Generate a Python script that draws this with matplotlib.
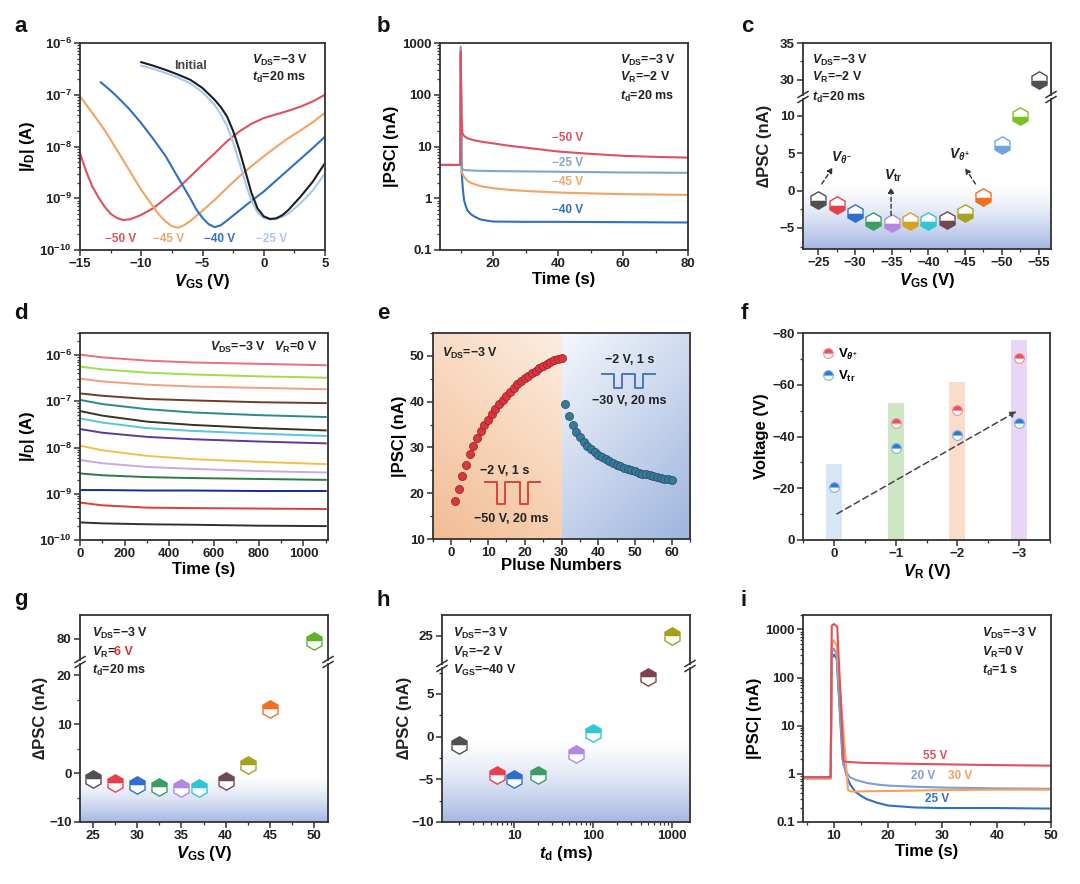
import numpy as np
import matplotlib
matplotlib.use("Agg")
import matplotlib.pyplot as plt
from matplotlib.lines import Line2D
from matplotlib.ticker import (MultipleLocator, FixedLocator, FixedFormatter,
                               LogLocator, NullFormatter, FuncFormatter)

plt.rcParams.update({
    'font.family': ['Liberation Sans', 'DejaVu Sans'],
    'font.weight': 'bold',
    'axes.labelweight': 'bold',
    'mathtext.fontset': 'custom',
    'mathtext.rm': 'Liberation Sans:bold',
    'mathtext.it': 'Liberation Sans:italic:bold',
    'mathtext.bf': 'Liberation Sans:bold',
    'mathtext.sf': 'Liberation Sans:bold',
    'font.size': 9,
    'axes.linewidth': 1.3,
    'axes.edgecolor': '#333333',
    'xtick.direction': 'out',
    'ytick.direction': 'out',
    'lines.solid_joinstyle': 'round',
})

# ------------------------------------------------------------------ data
# (a) transfer curves, log10(|I_D|)
a_x_init = [-10, -9, -8, -7, -6, -5, -4, -3.5, -3, -2.5, -2, -1.5, -1, -0.5, 0, 0.5, 1, 1.5, 2, 3, 4, 5]
a_init = [-6.37, -6.44, -6.52, -6.61, -6.71, -6.87, -7.10, -7.24, -7.42, -7.70, -8.06, -8.48, -8.90,
          -9.20, -9.35, -9.40, -9.39, -9.33, -9.23, -8.97, -8.68, -8.32]
a_x_25 = [-10, -9, -8, -7, -6, -5, -4, -3.5, -3, -2.5, -2, -1.5, -1, -0.5, 0, 0.5, 1, 1.5, 2, 3, 4, 5]
a_25 = [-6.44, -6.50, -6.58, -6.67, -6.78, -6.95, -7.20, -7.38, -7.60, -7.92, -8.30, -8.70, -9.05,
        -9.28, -9.38, -9.41, -9.40, -9.36, -9.30, -9.10, -8.85, -8.52]
a_x_40 = [-13.3, -12.5, -12, -11, -10, -9, -8, -7, -6, -5.5, -5, -4.5, -4, -3.5, -3, -2, -1, 0, 1, 2, 3, 4, 5]
a_40 = [-6.76, -6.92, -7.03, -7.27, -7.55, -7.86, -8.19, -8.60, -9.00, -9.22, -9.38, -9.50, -9.56,
        -9.52, -9.43, -9.24, -9.05, -8.87, -8.66, -8.45, -8.24, -8.03, -7.81]
a_x_45 = [-15, -14, -13, -12, -11, -10, -9, -8.5, -8, -7.5, -7, -6.5, -6, -5, -4, -3, -2, -1, 0, 1, 2, 3, 4, 5]
a_45 = [-7.03, -7.35, -7.68, -8.06, -8.45, -8.84, -9.17, -9.33, -9.45, -9.54, -9.57, -9.52, -9.44,
        -9.24, -9.03, -8.80, -8.58, -8.38, -8.19, -8.01, -7.84, -7.69, -7.53, -7.35]
a_x_50 = [-15, -14.5, -14, -13.5, -13, -12.5, -12, -11.5, -11, -10.5, -10, -9, -8, -7, -6, -5, -4, -3,
          -2, -1, 0, 1, 2, 3, 4, 5]
a_50 = [-8.13, -8.48, -8.77, -8.98, -9.16, -9.30, -9.38, -9.42, -9.41, -9.37, -9.32, -9.19, -9.00,
        -8.81, -8.58, -8.35, -8.13, -7.90, -7.71, -7.56, -7.45, -7.38, -7.31, -7.23, -7.13, -7.00]
a_yticks = [1e-10, 1e-9, 1e-8, 1e-7, 1e-6]
a_yticklabels = [r'$10^{-10}$', r'$10^{-9}$', r'$10^{-8}$', r'$10^{-7}$', r'$10^{-6}$']

# (b) |PSC| vs time
b_t_50 = [3.6, 9.9, 10.0, 10.2, 10.5, 11, 12, 14, 17, 20, 25, 30, 40, 50, 60, 70, 80]
b_50 = [4.4, 4.4, 690, 40, 18, 16, 14.5, 13.2, 12.2, 11.5, 10.3, 9.5, 8.0, 7.2, 6.6, 6.3, 6.1]
b_t_25 = [3.6, 9.9, 10.0, 10.3, 11, 15, 20, 40, 60, 80]
b_25 = [4.4, 4.4, 850, 3.8, 3.5, 3.4, 3.35, 3.25, 3.15, 3.1]
b_t_45 = [3.6, 9.9, 10.0, 10.3, 11, 12, 13, 15, 17, 20, 25, 30, 40, 50, 60, 80]
b_45 = [4.4, 4.4, 500, 3.2, 2.6, 2.2, 2.0, 1.8, 1.67, 1.56, 1.45, 1.38, 1.29, 1.24, 1.2, 1.16]
b_t_40 = [3.6, 9.9, 10.0, 10.3, 10.6, 11, 11.5, 12, 13, 14, 16, 18, 20, 30, 40, 60, 80]
b_40 = [4.4, 4.4, 600, 3.0, 1.6, 0.93, 0.72, 0.59, 0.50, 0.45, 0.39, 0.37, 0.355, 0.35, 0.35, 0.345, 0.34]
log_ticks = [0.1, 1, 10, 100, 1000]
log_ticklabels = ['0.1', '1', '10', '100', '1000']

# (c) ΔPSC vs V_GS
c_vgs = [-25, -27.5, -30, -32.5, -35, -37.5, -40, -42.5, -45, -47.5, -50, -52.5, -55]
c_dpsc = [-1.2, -1.9, -3.0, -4.0, -4.3, -4.1, -4.1, -3.9, -3.0, -0.8, 6.1, 10.0, 30.0]
c_colors = ['#505050', '#e8404a', '#2c6fd0', '#3a9e62', '#b488e0', '#d4a41e', '#30c6d6',
            '#704850', '#a4a420', '#f27020', '#6aa6e0', '#7cc020', '#505050']
c_arrows = [((-25.46, 0.88), (-26.96, 3.08)), ((-34.9, -3.3), (-34.9, 0.44)), ((-46.4, 0.88), (-45.0, 3.0))]
c_arrow_labels = [(-28.2, 4.4, r'$\mathit{V}_{\theta^{-}}$'), (-35.2, 2.0, r'$\mathit{V}_{\mathrm{tr}}$'),
                  (-44.3, 4.8, r'$\mathit{V}_{\theta^{+}}$')]

# (d) retention, log10(|I_D|) at d_t
d_t = [0, 100, 300, 500, 800, 1100]
d_logI = [
    [-5.99, -6.05, -6.12, -6.16, -6.19, -6.22],
    [-6.25, -6.31, -6.38, -6.42, -6.46, -6.49],
    [-6.51, -6.57, -6.64, -6.68, -6.71, -6.74],
    [-6.83, -6.88, -6.95, -6.98, -7.02, -7.04],
    [-6.97, -7.06, -7.17, -7.24, -7.30, -7.34],
    [-7.21, -7.31, -7.44, -7.51, -7.58, -7.63],
    [-7.37, -7.46, -7.58, -7.64, -7.70, -7.75],
    [-7.60, -7.68, -7.77, -7.82, -7.87, -7.91],
    [-7.96, -8.06, -8.18, -8.25, -8.31, -8.36],
    [-8.27, -8.34, -8.42, -8.46, -8.51, -8.54],
    [-8.56, -8.60, -8.64, -8.66, -8.68, -8.70],
    [-8.92, -8.92, -8.93, -8.93, -8.94, -8.94],
    [-9.19, -9.25, -9.30, -9.31, -9.32, -9.33],
    [-9.62, -9.64, -9.66, -9.67, -9.69, -9.70],
]
d_colors = ['#e8707a', '#9be04a', '#f0a080', '#6b3f2a', '#2a8a8a', '#3b3320', '#55c8d8',
            '#5a3a9a', '#f2c04a', '#c8a8e8', '#2e7a4a', '#1428a0', '#e03a3a', '#303030']
d_yticks = [1e-10, 1e-9, 1e-8, 1e-7, 1e-6]

# (e) potentiation / depression
e_n_pot = list(range(1, 31))
e_pot = [18.2, 21.0, 23.7, 26.2, 28.5, 30.4, 32.1, 33.6, 35.0, 36.0, 37.2, 38.3, 39.4, 40.4, 41.3,
         42.2, 43.0, 43.8, 44.5, 45.1, 45.7, 46.3, 46.8, 47.3, 47.7, 48.2, 48.6, 49.0, 49.3, 49.6]
e_n_dep = list(range(31, 61))
e_dep = [39.5, 36.8, 34.8, 33.4, 32.2, 31.2, 30.4, 29.6, 29.0, 28.4, 27.9, 27.4, 27.0, 26.6, 26.2,
         25.9, 25.6, 25.3, 25.0, 24.8, 24.5, 24.3, 24.1, 23.9, 23.7, 23.5, 23.3, 23.2, 23.0, 22.8]
e_wave_red_x = [9.2, 12.3, 12.3, 14.6, 14.6, 18.7, 18.7, 21.0, 21.0, 24.1]
e_wave_red_y = [22.4, 22.4, 17.7, 17.7, 22.4, 22.4, 17.7, 17.7, 22.4, 22.4]
e_wave_blue_x = [41.1, 44.2, 44.2, 46.5, 46.5, 50.0, 50.0, 52.3, 52.3, 55.6]
e_wave_blue_y = [46.0, 46.0, 42.9, 42.9, 46.0, 46.0, 42.9, 42.9, 46.0, 46.0]

# (f) voltages vs V_R
f_x = [0, 1, 2, 3]
f_xticklabels = ['0', '−1', '−2', '−3']
f_bar = [-29.4, -52.9, -60.9, -77.2]
f_bar_colors = ['#9cc2e6', '#86c46a', '#f2a878', '#c39ae8']
f_theta_x = [1, 2, 3]
f_theta = [-45.4, -50.1, -70.3]
f_tr_x = [0, 1, 2, 3]
f_tr = [-20.4, -35.4, -40.4, -45.2]
f_arrow = ((0.05, -10.1), (2.96, -49.7))

# (g) ΔPSC vs positive V_GS
g_vgs = [25, 27.5, 30, 32.5, 35, 37, 40, 42.5, 45, 50]
g_dpsc = [-1.3, -2.1, -2.5, -2.8, -3.0, -3.0, -1.7, 1.7, 13.0, 79.5]
g_colors = ['#505050', '#e8404a', '#2c6fd0', '#3a9e62', '#b488e0', '#30c6d6', '#704850',
            '#a4a420', '#f27020', '#62b02a']

# (h) ΔPSC vs t_d
h_td = [2, 6, 10, 20, 60, 100, 500, 1000]
h_dpsc = [-1.0, -4.5, -5.0, -4.5, -2.0, 0.4, 7.0, 25.0]
h_colors = ['#505050', '#e8404a', '#2c6fd0', '#3a9e62', '#b488e0', '#30c6d6', '#804050', '#a4a018']

# (i) |PSC| vs time, t_d = 1 s
i_t_55 = [4.3, 9.4, 9.6, 10.0, 10.6, 11.8, 15, 20, 30, 40, 50]
i_55 = [0.85, 0.85, 1200, 1300, 1150, 1.8, 1.7, 1.65, 1.58, 1.52, 1.48]
i_t_30 = [4.3, 9.4, 9.6, 10.0, 10.5, 12.6, 13.2, 20, 30, 40, 50]
i_30 = [0.80, 0.80, 500, 600, 450, 0.46, 0.43, 0.44, 0.46, 0.47, 0.47]
i_t_20 = [4.3, 9.4, 9.6, 10.0, 10.5, 11.7, 12.5, 13, 14, 16, 18, 20, 25, 30, 40, 50]
i_20 = [0.80, 0.80, 350, 400, 300, 1.6, 1.0, 0.85, 0.75, 0.65, 0.60, 0.57, 0.54, 0.52, 0.50, 0.49]
i_t_25 = [4.3, 9.4, 9.6, 10.0, 10.5, 11.6, 12, 12.5, 13, 14, 15, 16, 18, 20, 25, 30, 40, 50]
i_25 = [0.85, 0.85, 250, 300, 250, 2.0, 1.3, 0.8, 0.6, 0.42, 0.35, 0.30, 0.25, 0.22, 0.20, 0.195, 0.195, 0.19]

# ------------------------------------------------------------------ helpers
W, H = 1080, 884
fig = plt.figure(figsize=(W / 100, H / 100), dpi=100)
TXT = '#222222'
minus_fmt = FuncFormatter(lambda v, p: f'{v:.0f}'.replace('-', '−'))


def add_ax(l, t, r, b):
    return fig.add_axes([l / W, 1 - b / H, (r - l) / W, (b - t) / H])


def ftext(px, py, s, **kw):
    kw.setdefault('fontsize', 9)
    kw.setdefault('va', 'center')
    kw.setdefault('color', TXT)
    return fig.text(px / W, 1 - py / H, s, **kw)


def style(ax):
    ax.tick_params(which='major', length=4, width=1.1, labelsize=9.5, color='#333333', labelcolor=TXT, pad=2)
    ax.tick_params(which='minor', length=2.3, width=0.9, color='#333333')


def logstyle(ax, axis='y'):
    a = ax.yaxis if axis == 'y' else ax.xaxis
    a.set_minor_locator(LogLocator(base=10, subs=np.arange(2, 10), numticks=20))
    a.set_minor_formatter(NullFormatter())


def vgrad(ax, frac, color=(0.56, 0.65, 0.86), amax=0.8):
    n = 256
    img = np.zeros((n, 1, 4))
    img[..., 0], img[..., 1], img[..., 2] = color
    img[:, 0, 3] = amax * np.linspace(0, 1, n) ** 1.4
    ax.imshow(img, extent=[0, 1, 0, frac], transform=ax.transAxes, aspect='auto',
              zorder=0, interpolation='bicubic')


def broken(l, t, r, b, ybreak, gap=4):
    axt = add_ax(l, t, r, ybreak - gap / 2)
    axb = add_ax(l, ybreak + gap / 2, r, b)
    axt.spines['bottom'].set_visible(False)
    axb.spines['top'].set_visible(False)
    axt.tick_params(axis='x', which='both', bottom=False, labelbottom=False)
    for x in (l, r):
        for dy in (-gap / 2 - 0.5, gap / 2 + 0.5):
            fig.add_artist(Line2D([(x - 5) / W, (x + 5) / W],
                                  [1 - (ybreak + dy + 3) / H, 1 - (ybreak + dy - 3) / H],
                                  color='#333333', lw=1.1))
    return axt, axb


def hexpts(ax, xs, ys, cols, fill, ms=12.5):
    for x, y, c in zip(xs, ys, cols):
        ax.plot([x], [y], marker='h', ms=ms, ls='none', fillstyle=fill, markerfacecolor=c,
                markerfacecoloralt='white', markeredgecolor=c, markeredgewidth=1.0, zorder=3,
                clip_on=True)


def vlab(sub):
    return r'$\mathit{V}_{\mathrm{' + sub + '}}$'


DPSC = '∆PSC (nA)'

# panel letters
for lab, px, py in [('a', 14, 27), ('b', 377, 27), ('c', 741, 27), ('d', 14, 313), ('e', 377, 313),
                    ('f', 741, 313), ('g', 14, 600), ('h', 377, 600), ('i', 741, 600)]:
    ftext(px, py, lab, fontsize=16, color='#111111')

# ------------------------------------------------------------------ (a)
ax = add_ax(80, 43, 325, 250)
ax.set_yscale('log')
ax.plot(a_x_50, 10 ** np.array(a_50), color='#e0505e', lw=1.5)
ax.plot(a_x_45, 10 ** np.array(a_45), color='#f2a463', lw=1.5)
ax.plot(a_x_40, 10 ** np.array(a_40), color='#2f6fc4', lw=1.5)
ax.plot(a_x_25, 10 ** np.array(a_25), color='#a8c8ee', lw=1.5)
ax.plot(a_x_init, 10 ** np.array(a_init), color='#1e1e1e', lw=1.5)
ax.set_xlim(-15, 5)
ax.set_ylim(1e-10, 1e-6)
ax.xaxis.set_major_locator(MultipleLocator(5))
ax.xaxis.set_minor_locator(MultipleLocator(2.5))
ax.xaxis.set_major_formatter(minus_fmt)
ax.yaxis.set_major_locator(FixedLocator(a_yticks))
ax.yaxis.set_major_formatter(FixedFormatter(a_yticklabels))
logstyle(ax)
style(ax)
ax.set_xlabel(vlab('GS') + ' (V)', fontsize=12, labelpad=1)
ax.set_ylabel('|' + r'$\mathit{I}_{\mathrm{D}}$' + '| (A)', fontsize=12, labelpad=2)
ax.text(-6.0, 10 ** -6.45, 'Initial', ha='center', va='center', fontsize=9, color='#444444')
for xx, s, c in [(-11.7, '−50 V', '#e0505e'), (-7.8, '−45 V', '#f2a463'), (-3.6, '−40 V', '#2f6fc4'),
                 (0.65, '−25 V', '#a8c8ee')]:
    ax.text(xx, 10 ** -9.79, s, ha='center', va='center', fontsize=8.5, color=c)
ftext(252, 60, vlab('DS') + '=−3 V')
ftext(252, 77, r'$\mathit{t}_{\mathrm{d}}$' + '=20 ms')

# ------------------------------------------------------------------ (b)
ax = add_ax(440, 43, 688, 250)
ax.set_yscale('log')
ax.plot(b_t_40, b_40, color='#2f6fc4', lw=1.5)
ax.plot(b_t_45, b_45, color='#f2a463', lw=1.5)
ax.plot(b_t_25, b_25, color='#7fa6d2', lw=1.5)
ax.plot(b_t_50, b_50, color='#e0505e', lw=1.5)
ax.set_xlim(3.6, 80)
ax.set_ylim(0.1, 1000)
ax.xaxis.set_major_locator(MultipleLocator(20))
ax.xaxis.set_minor_locator(MultipleLocator(10))
ax.yaxis.set_major_locator(FixedLocator(log_ticks))
ax.yaxis.set_major_formatter(FixedFormatter(log_ticklabels))
logstyle(ax)
style(ax)
ax.set_xlabel('Time (s)', fontsize=12, labelpad=1)
ax.set_ylabel('|PSC| (nA)', fontsize=12, labelpad=2)
for yy, s, c in [(14.5, '−50 V', '#e0505e'), (4.7, '−25 V', '#7fa6d2'), (2.1, '−45 V', '#f2a463'),
                 (0.6, '−40 V', '#2f6fc4')]:
    ax.text(43, yy, s, ha='center', va='center', fontsize=8.5, color=c)
ftext(620, 60, vlab('DS') + '=−3 V')
ftext(620, 77, r'$\mathit{V}_{\mathrm{R}}$' + '=−2 V')
ftext(620, 96, r'$\mathit{t}_{\mathrm{d}}$' + '=20 ms')

# ------------------------------------------------------------------ (c)
axt, axb = broken(803, 43, 1051, 249, 97)
for a_ in (axt, axb):
    hexpts(a_, c_vgs, c_dpsc, c_colors, 'bottom')
    a_.set_xlim(-22.9, -56.7)
    a_.xaxis.set_major_locator(MultipleLocator(5))
    a_.xaxis.set_minor_locator(MultipleLocator(2.5))
    style(a_)
axt.set_ylim(27.9, 35)
axt.yaxis.set_major_locator(MultipleLocator(5))
axt.yaxis.set_minor_locator(MultipleLocator(2.5))
axb.set_ylim(-7.8, 12.2)
axb.yaxis.set_major_locator(MultipleLocator(5))
axb.yaxis.set_minor_locator(MultipleLocator(2.5))
axb.yaxis.set_major_formatter(minus_fmt)
axb.xaxis.set_major_formatter(minus_fmt)
vgrad(axb, 0.44)
axb.set_xlim(-22.9, -56.7)
axb.set_ylim(-7.8, 12.2)
for (p0, p1) in c_arrows:
    axb.annotate('', xy=p1, xytext=p0,
                 arrowprops=dict(arrowstyle='-|>', ls=(0, (3, 2)), color='#333333', lw=1.0,
                                 mutation_scale=8, shrinkA=0, shrinkB=0))
for xx, yy, s in c_arrow_labels:
    axb.text(xx, yy, s, ha='center', va='center', fontsize=10, color=TXT)
axb.set_xlabel(vlab('GS') + ' (V)', fontsize=12, labelpad=1)
fig.text(765 / W, 1 - 146 / H, DPSC, rotation=90, ha='center', va='center',
         fontsize=12, color=TXT)
ftext(812, 60, vlab('DS') + '=−3 V')
ftext(812, 77, r'$\mathit{V}_{\mathrm{R}}$' + '=−2 V')
ftext(812, 97, r'$\mathit{t}_{\mathrm{d}}$' + '=20 ms')

# ------------------------------------------------------------------ (d)
ax = add_ax(80, 333, 328, 540)
ax.set_yscale('log')
for logs, c in zip(d_logI, d_colors):
    ax.plot(d_t, 10 ** np.array(logs), color=c, lw=1.4)
ax.set_xlim(0, 1110)
ax.set_ylim(1e-10, 3e-6)
ax.xaxis.set_major_locator(MultipleLocator(200))
ax.xaxis.set_minor_locator(MultipleLocator(100))
ax.yaxis.set_major_locator(FixedLocator(d_yticks))
ax.yaxis.set_major_formatter(FixedFormatter(a_yticklabels))
logstyle(ax)
style(ax)
ax.set_xlabel('Time (s)', fontsize=12, labelpad=1)
ax.set_ylabel('|' + r'$\mathit{I}_{\mathrm{D}}$' + '| (A)', fontsize=12, labelpad=2)
ftext(210, 347, vlab('DS') + '=−3 V   ' + r'$\mathit{V}_{\mathrm{R}}$' + '=0 V')

# ------------------------------------------------------------------ (e)
ax = add_ax(433, 333, 690, 539)
ny, nx = 120, 120
u = np.linspace(0, 1, nx)[None, :]
v = np.linspace(1, 0, ny)[:, None]
s_or = np.clip(0.65 * (1 - v) + 0.35 * (1 - u), 0, 1)[..., None]
c0, c1 = np.array([0.99, 0.93, 0.88]), np.array([0.95, 0.74, 0.58])
img_or = c0 * (1 - s_or) + c1 * s_or
s_bl = np.clip(0.6 * (1 - v) + 0.4 * u, 0, 1)[..., None]
b0, b1 = np.array([0.96, 0.97, 0.99]), np.array([0.62, 0.71, 0.87])
img_bl = b0 * (1 - s_bl) + b1 * s_bl
ax.imshow(img_or, extent=[-5, 30, 10, 55], aspect='auto', zorder=0, interpolation='bicubic')
ax.imshow(img_bl, extent=[30, 65, 10, 55], aspect='auto', zorder=0, interpolation='bicubic')
ax.set_xlim(-5, 65)
ax.set_ylim(10, 55)
ax.scatter(e_n_pot, e_pot, s=34, color='#d8353e', edgecolor='#9c1c24', linewidth=0.5, zorder=3)
ax.scatter(e_n_dep, e_dep, s=34, color='#3a7898', edgecolor='#1f4e66', linewidth=0.5, zorder=3)
ax.plot(e_wave_red_x, e_wave_red_y, color='#e0423a', lw=1.4, zorder=2)
ax.plot(e_wave_blue_x, e_wave_blue_y, color='#4a78b0', lw=1.4, zorder=2)
ax.text(14.5, 24.9, '−2 V, 1 s', ha='center', va='center', fontsize=9, color=TXT)
ax.text(16.4, 14.3, '−50 V, 20 ms', ha='center', va='center', fontsize=9, color=TXT)
ax.text(48.5, 49.2, '−2 V, 1 s', ha='center', va='center', fontsize=9, color=TXT)
ax.text(48.5, 40.2, '−30 V, 20 ms', ha='center', va='center', fontsize=9, color=TXT)
ax.xaxis.set_major_locator(MultipleLocator(10))
ax.xaxis.set_minor_locator(MultipleLocator(5))
ax.yaxis.set_major_locator(MultipleLocator(10))
ax.yaxis.set_minor_locator(MultipleLocator(5))
style(ax)
ax.set_xlabel('Pluse Numbers', fontsize=12, labelpad=-1)
ax.set_ylabel('|PSC| (nA)', fontsize=12, labelpad=2)
ftext(442, 353, vlab('DS') + '=−3 V')

# ------------------------------------------------------------------ (f)
ax = add_ax(803, 333, 1050, 540)
ax.bar(f_x, f_bar, width=0.26, color=f_bar_colors, alpha=0.4, edgecolor='none', zorder=1)
l1, = ax.plot(f_theta_x, f_theta, 'o', ms=7, fillstyle='top', markerfacecolor='#e8505a',
              markerfacecoloralt='white', markeredgecolor='#f09098', mew=0.8, zorder=3,
              label=r'V$_{\theta^{+}}$')
l2, = ax.plot(f_tr_x, f_tr, 'o', ms=7, fillstyle='top', markerfacecolor='#2f78d0',
              markerfacecoloralt='white', markeredgecolor='#80b0e8', mew=0.8, zorder=3,
              label=r'V$_{\mathrm{tr}}$')
ax.annotate('', xy=f_arrow[1], xytext=f_arrow[0],
            arrowprops=dict(arrowstyle='-|>', ls=(0, (4, 2.5)), color='#444444', lw=1.1,
                            mutation_scale=9, shrinkA=0, shrinkB=0), zorder=2)
ax.set_xlim(-0.5, 3.5)
ax.set_ylim(0, -80)
ax.xaxis.set_major_locator(FixedLocator(f_x))
ax.xaxis.set_major_formatter(FixedFormatter(f_xticklabels))
ax.xaxis.set_minor_locator(MultipleLocator(0.5))
ax.yaxis.set_major_locator(MultipleLocator(20))
ax.yaxis.set_minor_locator(MultipleLocator(10))
ax.yaxis.set_major_formatter(minus_fmt)
style(ax)
ax.legend(handles=[l1, l2], loc='upper left', bbox_to_anchor=(0.02, 0.99), frameon=False, fontsize=9.5,
          handletextpad=0.2, labelspacing=0.5, handlelength=1.2)
ax.set_xlabel(r'$\mathit{V}_{\mathrm{R}}$' + ' (V)', fontsize=12, labelpad=1)
ax.set_ylabel('Voltage (V)', fontsize=12, labelpad=2)

# ------------------------------------------------------------------ (g)
axt, axb = broken(80, 615, 328, 822, 662)
for a_ in (axt, axb):
    hexpts(a_, g_vgs, g_dpsc, g_colors, 'top')
    a_.set_xlim(23.5, 51.6)
    a_.xaxis.set_major_locator(MultipleLocator(5))
    a_.xaxis.set_minor_locator(MultipleLocator(2.5))
    style(a_)
axt.set_ylim(75.6, 85)
axt.yaxis.set_major_locator(FixedLocator([80]))
axb.set_ylim(-10, 22.3)
axb.yaxis.set_major_locator(MultipleLocator(10))
axb.yaxis.set_minor_locator(MultipleLocator(5))
axb.yaxis.set_major_formatter(minus_fmt)
vgrad(axb, 0.30)
axb.set_xlim(23.5, 51.6)
axb.set_ylim(-10, 22.3)
axb.set_xlabel(vlab('GS') + ' (V)', fontsize=12, labelpad=1)
fig.text(40 / W, 1 - 718 / H, DPSC, rotation=90, ha='center', va='center',
         fontsize=12, color=TXT)
ftext(92, 633, vlab('DS') + '=−3 V')
ftext(92, 652, r'$\mathit{V}_{\mathrm{R}}$' + '=')
ftext(114, 652, '6 V', color='#e03030')
ftext(92, 670, r'$\mathit{t}_{\mathrm{d}}$' + '=20 ms')

# ------------------------------------------------------------------ (h)
axt, axb = broken(442, 615, 690, 822, 666)
for a_ in (axt, axb):
    a_.set_xscale('log')
    hexpts(a_, h_td, h_dpsc, h_colors, 'top')
    a_.set_xlim(1.2, 1700)
    a_.xaxis.set_major_locator(FixedLocator([10, 100, 1000]))
    a_.xaxis.set_major_formatter(FixedFormatter(['10', '100', '1000']))
    logstyle(a_, 'x')
    style(a_)
axt.tick_params(axis='x', which='both', bottom=False, labelbottom=False)
axt.set_ylim(21.6, 27.5)
axt.yaxis.set_major_locator(FixedLocator([25]))
axb.set_ylim(-10, 8.04)
axb.yaxis.set_major_locator(MultipleLocator(5))
axb.yaxis.set_minor_locator(MultipleLocator(2.5))
axb.yaxis.set_major_formatter(minus_fmt)
vgrad(axb, 0.55)
axb.set_xlim(1.2, 1700)
axb.set_ylim(-10, 8.04)
axb.set_xlabel(r'$\mathit{t}_{\mathrm{d}}$' + ' (ms)', fontsize=12, labelpad=1)
fig.text(405 / W, 1 - 718 / H, DPSC, rotation=90, ha='center', va='center',
         fontsize=12, color=TXT)
ftext(453, 633, vlab('DS') + '=−3 V')
ftext(453, 652, r'$\mathit{V}_{\mathrm{R}}$' + '=−2 V')
ftext(453, 670, vlab('GS') + '=−40 V')

# ------------------------------------------------------------------ (i)
ax = add_ax(803, 615, 1051, 822)
ax.set_yscale('log')
ax.plot(i_t_25, i_25, color='#2f6fc4', lw=1.5)
ax.plot(i_t_20, i_20, color='#7f9fcf', lw=1.5)
ax.plot(i_t_30, i_30, color='#f5a25d', lw=1.5)
ax.plot(i_t_55, i_55, color='#e0505e', lw=1.5)
ax.set_xlim(4.3, 50)
ax.set_ylim(0.1, 2000)
ax.xaxis.set_major_locator(MultipleLocator(10))
ax.xaxis.set_minor_locator(MultipleLocator(5))
ax.yaxis.set_major_locator(FixedLocator(log_ticks))
ax.yaxis.set_major_formatter(FixedFormatter(log_ticklabels))
logstyle(ax)
style(ax)
ax.set_xlabel('Time (s)', fontsize=12, labelpad=1)
ax.set_ylabel('|PSC| (nA)', fontsize=12, labelpad=2)
ax.text(28.6, 2.3, '55 V', ha='center', va='center', fontsize=8.5, color='#e0505e')
ax.text(26.4, 0.89, '20 V', ha='center', va='center', fontsize=8.5, color='#7f9fcf')
ax.text(33.2, 0.89, '30 V', ha='center', va='center', fontsize=8.5, color='#f5a25d')
ax.text(29.0, 0.30, '25 V', ha='center', va='center', fontsize=8.5, color='#2f6fc4')
ftext(982, 633, vlab('DS') + '=−3 V')
ftext(982, 652, r'$\mathit{V}_{\mathrm{R}}$' + '=0 V')
ftext(982, 670, r'$\mathit{t}_{\mathrm{d}}$' + '=1 s')

fig.savefig('out.png', dpi=100, facecolor='white')
